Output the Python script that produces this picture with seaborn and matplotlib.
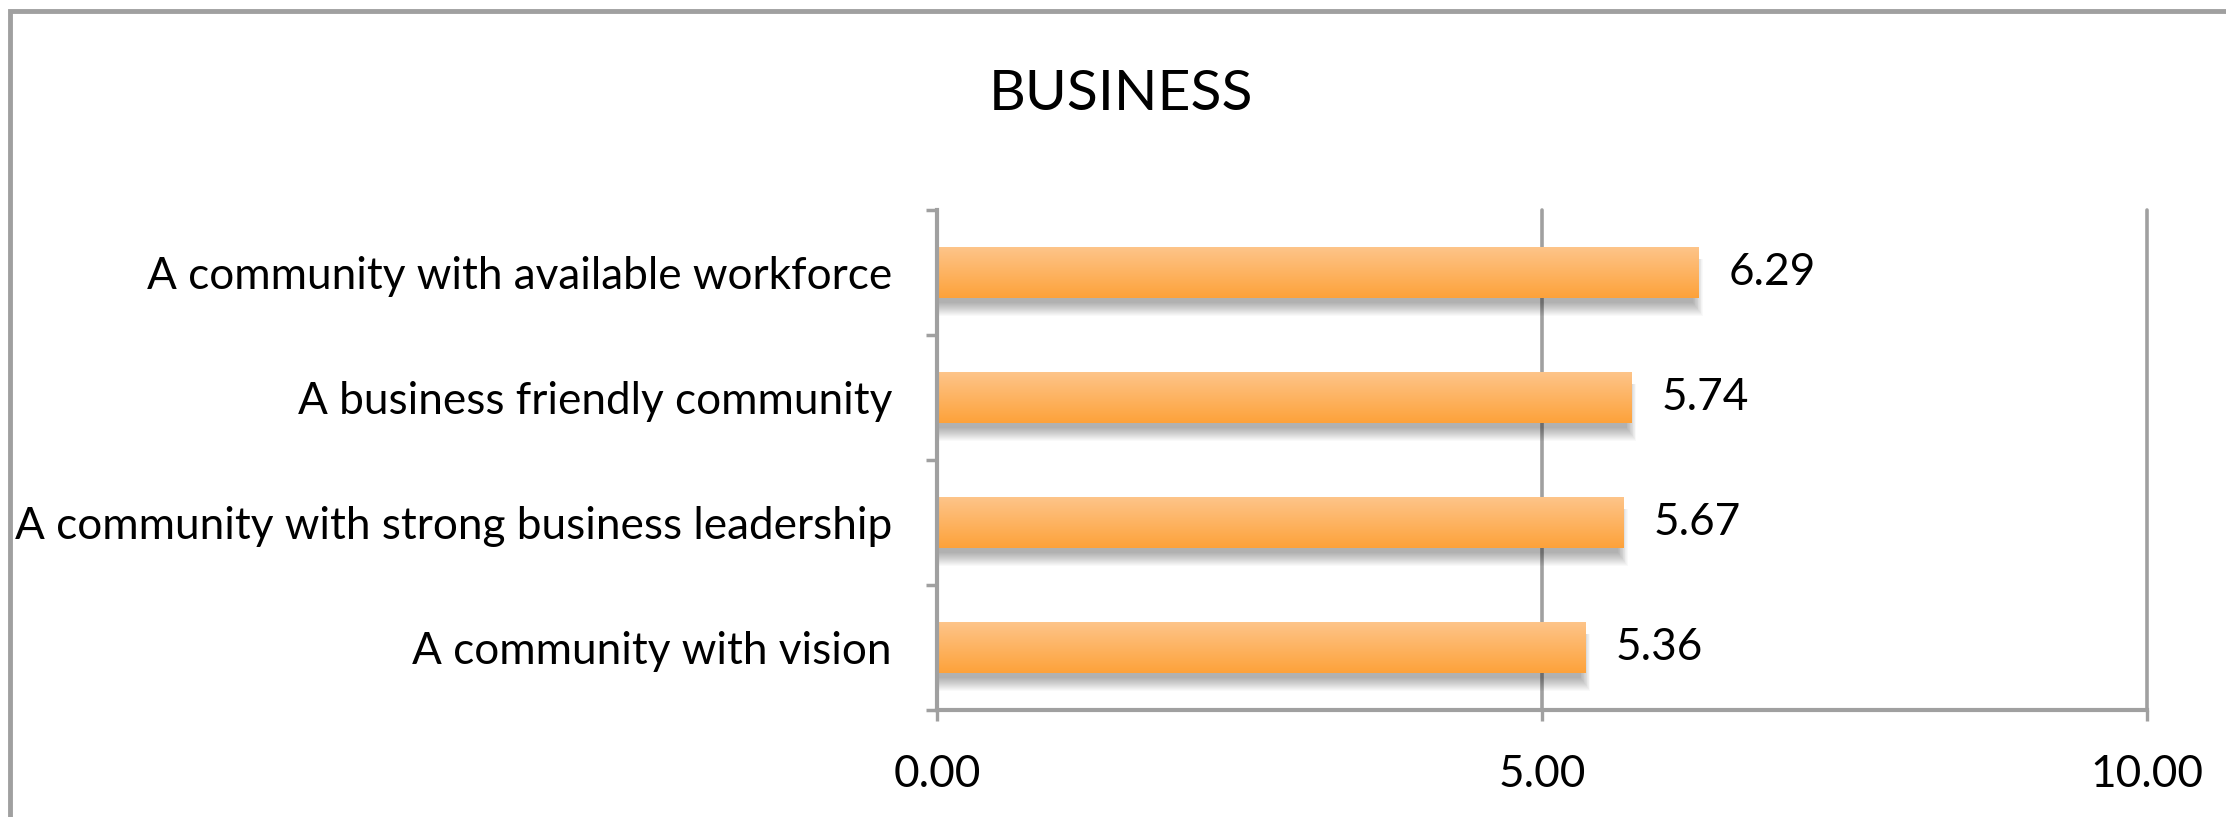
import numpy as np
import pandas as pd
import matplotlib
matplotlib.use("Agg")
import matplotlib.pyplot as plt
from matplotlib.patches import Rectangle
from matplotlib.colors import LinearSegmentedColormap
import seaborn as sns

# ---- data ----
categories = [
    "A community with available workforce",
    "A business friendly community",
    "A community with strong business leadership",
    "A community with vision",
]
values = [6.29, 5.74, 5.67, 5.36]
x_ticks = [0, 5, 10]
x_tick_labels = ["0.00", "5.00", "10.00"]
title = "BUSINESS"

sns.set_theme(style="white")
plt.rcParams["font.family"] = ["Lato", "DejaVu Sans"]

GRAY = "#a0a0a0"
DPI = 100
fig = plt.figure(figsize=(2226 / DPI, 817 / DPI), dpi=DPI)
ax = fig.add_axes([937 / 2226, 1 - 710 / 817, (2147 - 937) / 2226, (710 - 210) / 817])

df = pd.DataFrame({"category": categories, "value": values})
sns.barplot(data=df, x="value", y="category", orient="h", color="#FDB262",
            width=0.41, ax=ax, zorder=3)

ax.set_xlabel("")
ax.set_ylabel("")

# gridlines (vertical)
ax.grid(False)
for xv in x_ticks[1:]:
    ax.axvline(xv, color=GRAY, lw=2.6, zorder=1, clip_on=False)

# spines
for s in ["top", "right"]:
    ax.spines[s].set_visible(False)
for s in ["left", "bottom"]:
    ax.spines[s].set_visible(True)
    ax.spines[s].set_color(GRAY)
    ax.spines[s].set_linewidth(3)
    ax.spines[s].set_zorder(4)

LABEL_SIZE = 31.8
ax.set_xticks(x_ticks)
ax.set_xticklabels(x_tick_labels)
ax.set_yticks(np.arange(len(categories)))
ax.set_yticklabels(categories)
ax.set_yticks(np.arange(-0.5, len(categories)), minor=True)
ax.tick_params(axis="y", which="major", length=0, pad=45 * 0.72,
               labelsize=LABEL_SIZE, labelcolor="black")
ax.tick_params(axis="y", which="minor", length=8, width=2.5, color=GRAY, left=True)
ax.tick_params(axis="x", which="major", length=8, width=2.4, color=GRAY,
               bottom=True, pad=24, labelsize=LABEL_SIZE, labelcolor="black")

# gradient fill and soft shadow for each bar
grad = np.linspace(0, 1, 256).reshape(-1, 1)
cmap = LinearSegmentedColormap.from_list("og", ["#FEC58B", "#FDA23A"])
for p in ax.patches:
    x0, y0 = p.get_x(), p.get_y()
    w, h = p.get_width(), p.get_height()
    # soft shadow below / right
    n = 14
    for i in range(n):
        dy = i * 0.008
        dx = i * 0.006
        sh = Rectangle((x0, y0 + 0.1), w - 0.04 + dx, h - 0.06 + dy,
                       facecolor="black", edgecolor="none", alpha=0.022, zorder=2)
        ax.add_patch(sh)
    p.set_edgecolor("none")
    im = ax.imshow(grad, extent=(x0, x0 + w, y0 + h, y0), aspect="auto",
                   cmap=cmap, zorder=3.5, interpolation="bilinear")
    im.set_clip_path(p)
    ax.text(x0 + w + 0.25, y0 + h / 2, f"{w:.2f}", va="center", ha="left",
            fontsize=LABEL_SIZE, color="black", zorder=5)
ax.set_xlim(0, 10)
ax.set_ylim(len(categories) - 0.5, -0.5)

# title
fig.text(1121 / 2226, 1 - 95 / 817, title, ha="center", va="center",
         fontsize=41, color="black")

# chart-area border (only left/top visible)
border = Rectangle((10 / 2226, -0.2), 1.2, 1 - 11 / 817 + 0.2, transform=fig.transFigure,
                   fill=False, edgecolor=GRAY, linewidth=3.5, zorder=0)
fig.patches.append(border)

fig.savefig("out.png", dpi=DPI, facecolor="white")
